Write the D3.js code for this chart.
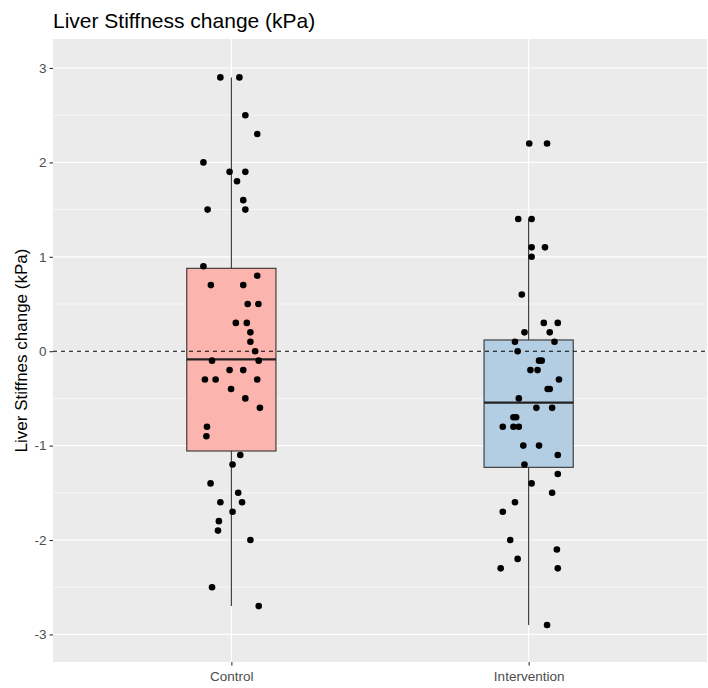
<!DOCTYPE html>
<html>
<head>
<meta charset="utf-8">
<script src="https://cdn.jsdelivr.net/npm/d3@7"></script>
<style>
  html, body { margin: 0; padding: 0; background: #fff; }
  svg { display: block; font-family: "Liberation Sans", Arial, sans-serif; }
</style>
</head>
<body>
<svg id="chart" width="708" height="688"></svg>
<script>
// ---------------- data ----------------
const categories = ["Control", "Intervention"];
const yTicks = [-3, -2, -1, 0, 1, 2, 3];

const controlValues = [
  2.9, 2.9, 2.5, 2.3, 2.0, 1.9, 1.9, 1.8, 1.6, 1.5, 1.5,
  0.9, 0.8, 0.7, 0.7, 0.5, 0.5, 0.3, 0.3, 0.2, 0.1, 0.0,
  -0.1, -0.1, -0.2, -0.2, -0.3, -0.3, -0.3, -0.4, -0.5, -0.6, -0.8,
  -0.9, -1.1, -1.2, -1.4, -1.5, -1.6, -1.6, -1.7, -1.8, -1.9, -2.0, -2.5, -2.7
];
const controlJitter = [
  -0.037, 0.027, 0.047, 0.087, -0.094, -0.006, 0.047, 0.019, 0.040, -0.080, 0.047,
  -0.094, 0.087, -0.069, 0.040, 0.055, 0.091, 0.015, 0.052, 0.064, 0.064, 0.080,
  -0.065, 0.092, -0.006, 0.040, -0.089, -0.053, 0.087, -0.001, 0.047, 0.096, -0.082,
  -0.084, 0.030, 0.004, -0.070, 0.023, -0.037, 0.036, 0.004, -0.042, -0.045, 0.064, -0.065, 0.092
];

const interventionValues = [
  2.2, 2.2, 1.4, 1.4, 1.1, 1.1, 1.0, 0.6,
  0.3, 0.3, 0.2, 0.2, 0.1, 0.1, 0.0, -0.1, -0.1, -0.2, -0.2, -0.3, -0.4, -0.4, -0.5,
  -0.6, -0.6, -0.7, -0.7, -0.8, -0.8, -0.8, -1.0, -1.0, -1.1, -1.2, -1.3, -1.4, -1.5,
  -1.6, -1.7, -2.0, -2.1, -2.2, -2.3, -2.3, -2.9
];
const interventionJitter = [
  0.002, 0.062, -0.035, 0.010, 0.010, 0.055, 0.010, -0.023,
  0.051, 0.098, -0.014, 0.071, -0.046, 0.087, -0.037, 0.035, 0.044, 0.006, 0.030, 0.102, 0.064, 0.071, -0.033,
  0.026, 0.079, -0.051, -0.042, -0.087, -0.051, -0.033, -0.018, 0.035, 0.098, -0.014, 0.098, 0.010, 0.079,
  -0.046, -0.087, -0.062, 0.095, -0.037, -0.094, 0.098, 0.062
];

// box statistics
const boxLower  = [-2.7, -2.9];
const boxQ1     = [-1.057, -1.23];
const boxMedian = [-0.086, -0.545];
const boxQ3     = [0.878, 0.119];
const boxUpper  = [2.9, 1.4];
const boxFill   = ["#FBB4AE", "#B3CDE3"];

// ---------------- layout ----------------
const panel = { left: 53, right: 707, top: 39, bottom: 662 };
const svg = d3.select("#chart");

const x = d3.scaleLinear().domain([0.4, 2.6]).range([panel.left, panel.right]);
const y = d3.scaleLinear().domain([-3.292, 3.307]).range([panel.bottom, panel.top]);

// panel background
svg.append("rect")
  .attr("x", panel.left).attr("y", panel.top)
  .attr("width", panel.right - panel.left).attr("height", panel.bottom - panel.top)
  .attr("fill", "#EBEBEB");

// minor grid
const minorY = d3.range(-3.5, 3.6, 1).filter(v => v > y.domain()[0] && v < y.domain()[1]);
svg.append("g").selectAll("line").data(minorY).join("line")
  .attr("x1", panel.left).attr("x2", panel.right)
  .attr("y1", d => y(d)).attr("y2", d => y(d))
  .attr("stroke", "#fff").attr("stroke-width", 0.6);

// major grid
svg.append("g").selectAll("line").data(yTicks).join("line")
  .attr("x1", panel.left).attr("x2", panel.right)
  .attr("y1", d => y(d)).attr("y2", d => y(d))
  .attr("stroke", "#fff").attr("stroke-width", 1.2);
svg.append("g").selectAll("line").data(categories).join("line")
  .attr("x1", (d, i) => x(i + 1)).attr("x2", (d, i) => x(i + 1))
  .attr("y1", panel.top).attr("y2", panel.bottom)
  .attr("stroke", "#fff").attr("stroke-width", 1.2);

// boxes
const boxW = 0.3;
const boxes = svg.append("g");
categories.forEach((c, i) => {
  const cx = x(i + 1);
  const g = boxes.append("g");
  g.append("line").attr("x1", cx).attr("x2", cx)
    .attr("y1", y(boxQ3[i])).attr("y2", y(boxUpper[i]))
    .attr("stroke", "#333").attr("stroke-width", 1.1);
  g.append("line").attr("x1", cx).attr("x2", cx)
    .attr("y1", y(boxQ1[i])).attr("y2", y(boxLower[i]))
    .attr("stroke", "#333").attr("stroke-width", 1.1);
  g.append("rect")
    .attr("x", x(i + 1 - boxW / 2)).attr("width", x(i + 1 + boxW / 2) - x(i + 1 - boxW / 2))
    .attr("y", y(boxQ3[i])).attr("height", y(boxQ1[i]) - y(boxQ3[i]))
    .attr("fill", boxFill[i]).attr("stroke", "#333").attr("stroke-width", 1.1);
  g.append("line")
    .attr("x1", x(i + 1 - boxW / 2)).attr("x2", x(i + 1 + boxW / 2))
    .attr("y1", y(boxMedian[i])).attr("y2", y(boxMedian[i]))
    .attr("stroke", "#222").attr("stroke-width", 2.2);
});

// dashed zero line
svg.append("line")
  .attr("x1", panel.left).attr("x2", panel.right)
  .attr("y1", y(0)).attr("y2", y(0))
  .attr("stroke", "#000").attr("stroke-width", 1.1)
  .attr("stroke-dasharray", "4,4");

// points
const pts = [];
controlValues.forEach((v, k) => pts.push({ pos: 1 + controlJitter[k], v }));
interventionValues.forEach((v, k) => pts.push({ pos: 2 + interventionJitter[k], v }));
svg.append("g").selectAll("circle").data(pts).join("circle")
  .attr("cx", d => x(d.pos)).attr("cy", d => y(d.v))
  .attr("r", 3.3).attr("fill", "#000");

// y axis
const yAxis = d3.axisLeft(y).tickValues(yTicks).tickSize(3.5).tickPadding(3)
  .tickFormat(d => d < 0 ? "-" + Math.abs(d) : String(d));
const ya = svg.append("g").attr("transform", `translate(${panel.left},0)`).call(yAxis);
ya.select(".domain").remove();
ya.selectAll(".tick line").attr("stroke", "#333").attr("stroke-width", 1.1);
ya.selectAll(".tick text").attr("fill", "#4D4D4D").style("font-size", "13.5px")
  .style("font-family", "'Liberation Sans', Arial, sans-serif");

// x axis
const xAxis = d3.axisBottom(x).tickValues([1, 2]).tickSize(3.5).tickPadding(6)
  .tickFormat(d => categories[d - 1]);
const xa = svg.append("g").attr("transform", `translate(0,${panel.bottom})`).call(xAxis);
xa.select(".domain").remove();
xa.selectAll(".tick line").attr("stroke", "#333").attr("stroke-width", 1.1);
xa.selectAll(".tick text").attr("fill", "#4D4D4D").style("font-size", "13.5px")
  .style("font-family", "'Liberation Sans', Arial, sans-serif");

// y axis title
svg.append("text")
  .attr("transform", `translate(27,${(panel.top + panel.bottom) / 2}) rotate(-90)`)
  .attr("text-anchor", "middle")
  .style("font-size", "17px").attr("fill", "#000")
  .text("Liver Stiffnes change (kPa)");

// title
svg.append("text")
  .attr("x", panel.left).attr("y", 27.5)
  .style("font-size", "21px").attr("fill", "#000")
  .text("Liver Stiffness change (kPa)");
</script>
</body>
</html>
